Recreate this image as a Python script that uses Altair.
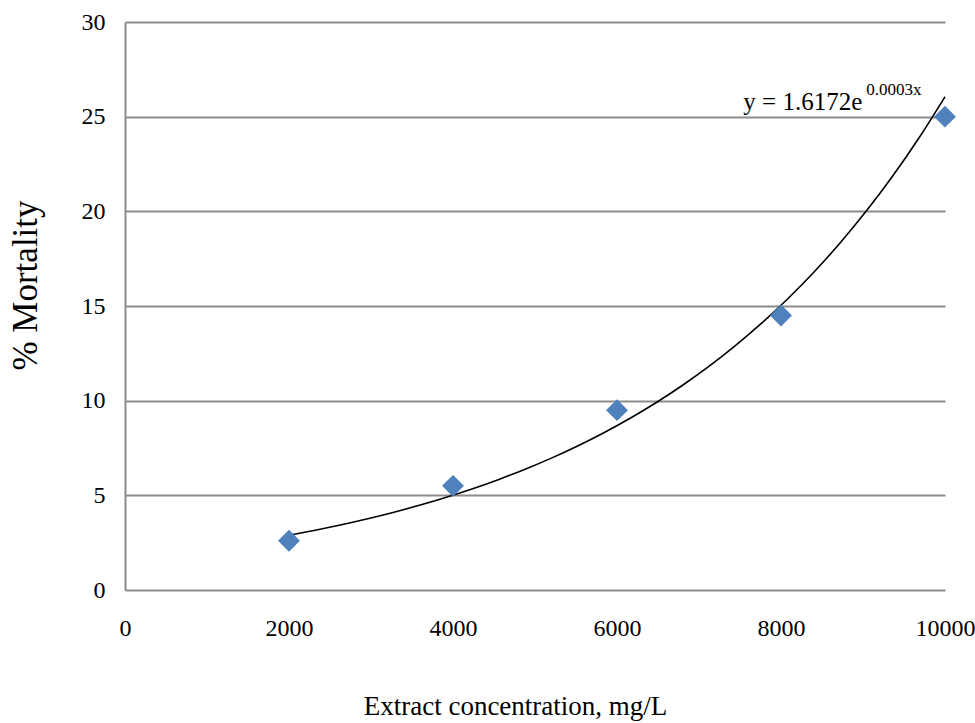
import altair as alt
import pandas as pd

# Measured mortality at each extract concentration
conc = [2000, 4000, 6000, 8000, 10000]
mortality = [2.6, 5.5, 9.5, 14.5, 25.0]

x_ticks = [0, 2000, 4000, 6000, 8000, 10000]
y_ticks = [0, 5, 10, 15, 20, 25, 30]

eq_main = "y = 1.6172e"
eq_exp = "0.0003x"

FONT = "Liberation Serif"

df = pd.DataFrame({"conc": conc, "mortality": mortality})

x_enc = alt.X(
    "conc:Q",
    scale=alt.Scale(domain=[0, 10000], nice=False, zero=True),
    axis=alt.Axis(
        values=x_ticks, format="d", title="Extract concentration, mg/L",
        grid=False, domain=False, ticks=False, labelFlush=False,
        labelPadding=26,
        labelFont=FONT, labelFontSize=24, labelColor="#000",
        titleFont=FONT, titleFontSize=27, titleFontWeight="normal", titleColor="#000",
        titleX=390, titleY=124, titleBaseline="alphabetic",
    ),
)
y_enc = alt.Y(
    "mortality:Q",
    scale=alt.Scale(domain=[0, 30], nice=False),
    axis=alt.Axis(
        values=y_ticks, title="% Mortality",
        grid=True, gridColor="#8c8c8c", gridWidth=2,
        domain=True, domainColor="#8c8c8c", domainWidth=2,
        ticks=False, labelPadding=20,
        labelFont=FONT, labelFontSize=24, labelColor="#000",
        titleFont=FONT, titleFontSize=35, titleFontWeight="normal", titleColor="#000",
        titleX=-89, titleY=263, titleBaseline="alphabetic", titleAngle=270,
    ),
)

base = alt.Chart(df)

points = base.mark_point(
    shape="diamond", filled=True, size=480, color="#4F81BD", opacity=1
).encode(x=x_enc, y=y_enc)

# Exponential trend: least squares on log(mortality), back-transformed
trend = (
    base.transform_calculate(logm="log(datum.mortality)")
    .transform_regression("conc", "logm", method="poly", order=1, extent=[2000, 10000])
    .transform_calculate(fit="exp(datum.logm)")
    .mark_line(color="black", strokeWidth=1.6, interpolate="monotone")
    .encode(x="conc:Q", y="fit:Q")
)

eq1 = alt.Chart(pd.DataFrame({"label": [eq_main]})).mark_text(
    font=FONT, fontSize=25, fontWeight="normal", align="left",
    baseline="alphabetic", color="#000"
).encode(x=alt.datum(7540), y=alt.datum(25.35), text="label:N")

eq2 = alt.Chart(pd.DataFrame({"label": [eq_exp]})).mark_text(
    font=FONT, fontSize=17, fontWeight="normal", align="left",
    baseline="alphabetic", color="#000"
).encode(x=alt.datum(9040), y=alt.datum(26.15), text="label:N")

chart = (
    alt.layer(trend, points, eq1, eq2)
    .properties(
        width=820, height=568,
        autosize=alt.AutoSizeParams(type="none"),
        padding={"left": 125, "top": 22, "right": 30, "bottom": 133},
        background="white",
    )
    .configure_view(stroke=None)
)

chart.save("out.html", embed_options={"renderer": "svg", "actions": False})
